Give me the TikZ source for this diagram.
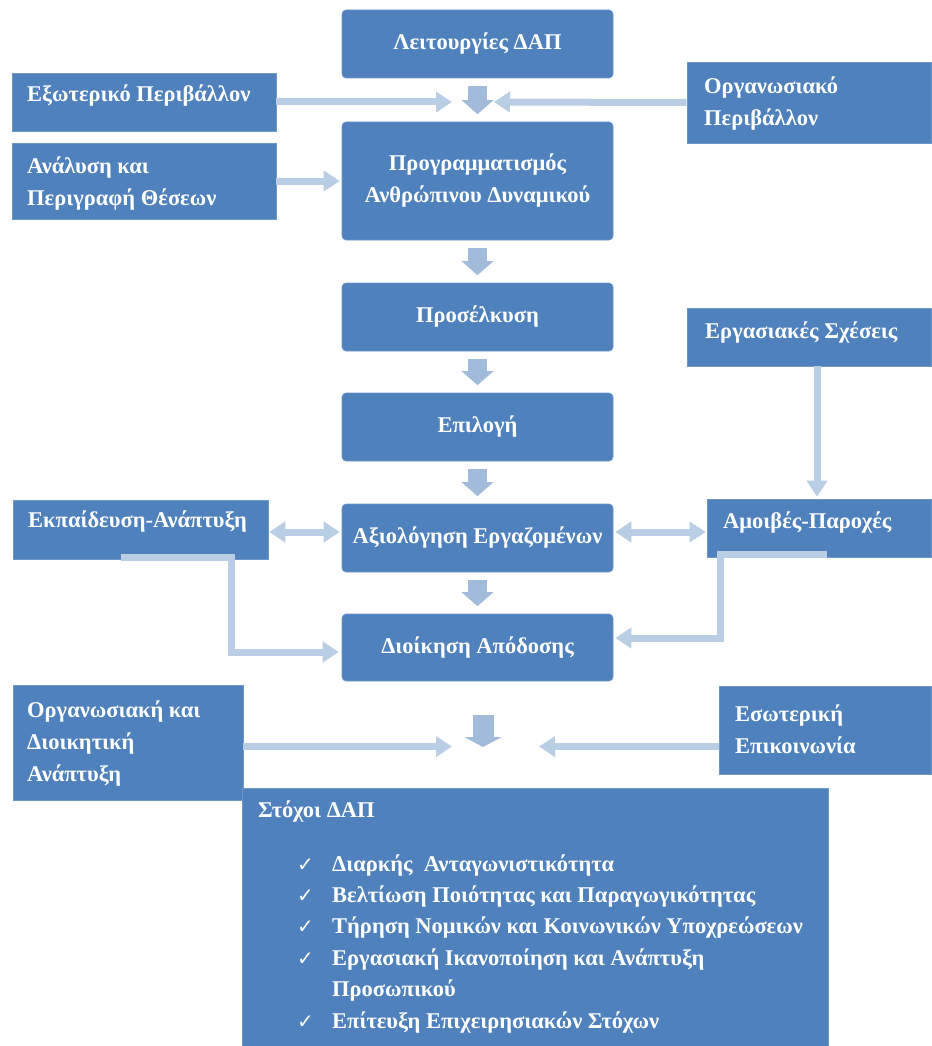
\documentclass[tikz,border=0pt]{standalone}
\usepackage{fontspec}
\setmainfont{Liberation Serif}
\newfontfamily\ckfont{DejaVu Sans}
\usetikzlibrary{arrows.meta}
\definecolor{boxblue}{HTML}{4F81BD}
\definecolor{boxedge}{HTML}{6E97C9}
\definecolor{connblue}{HTML}{B9CDE5}
\definecolor{blockblue}{HTML}{A3BBDB}
\newcommand{\ckm}{\makebox[35pt][l]{\ckfont\fontsize{20}{20}\selectfont ✓}}
\begin{document}
\begin{tikzpicture}[x=1pt,y=-1pt,
  bx/.style={fill=boxblue, draw=boxedge, line width=0.6pt, inner sep=0pt, text=white,
    font=\fontsize{22.5}{32}\selectfont\bfseries, align=center},
  cbox/.style={bx, rounded corners=4pt, minimum width=271pt, minimum height=68pt},
  sbox/.style={bx},
  lbl/.style={text=white, inner sep=0pt, anchor=base west, font=\fontsize{22.5}{32}\selectfont\bfseries},
  conn/.style={draw=connblue, line width=7pt, -{Triangle[length=16pt,width=20pt]}},
  dconn/.style={draw=connblue, line width=7pt, {Triangle[length=16pt,width=20pt]}-{Triangle[length=16pt,width=20pt]}},
  blockarr/.style={draw=blockblue, line width=19pt, -{Triangle[length=14pt,width=31pt]}, shorten >=7.5pt, shorten <=7.5pt},
]
\useasboundingbox (0,0) rectangle (931,1046);

% central column
\node[cbox] (lei) at (477.5,44) {Λειτουργίες ΔΑΠ};
\node[cbox, minimum height=118pt] (prog) at (477.5,181) {Προγραμματισμός\\Ανθρώπινου Δυναμικού};
\node[cbox] (pros) at (477.5,317) {Προσέλκυση};
\node[cbox] (epi) at (477.5,427) {Επιλογή};
\node[cbox] (axi) at (477.5,538) {Αξιολόγηση Εργαζομένων};
\node[cbox, minimum height=67pt] (dio) at (477.5,647.5) {Διοίκηση Απόδοσης};

% side boxes
\node[sbox, minimum width=264pt, minimum height=58pt] (ext) at (144,102) {};
\node[sbox, minimum width=264pt, minimum height=76pt] (ana) at (144,181) {};
\node[sbox, minimum width=244pt, minimum height=81pt] (org) at (809,102.5) {};
\node[sbox, minimum width=244pt, minimum height=58pt] (erg) at (809,337) {};
\node[sbox, minimum width=224pt, minimum height=58pt] (amo) at (819,528) {};
\node[sbox, minimum width=255pt, minimum height=59pt] (ekp) at (140.5,529.5) {};
\node[sbox, minimum width=230pt, minimum height=115pt] (orgd) at (128,742.5) {};
\node[sbox, minimum width=212pt, minimum height=88pt] (eso) at (825,730) {};
\node[sbox, minimum width=586pt, minimum height=258pt] (sto) at (535,917) {};

% side box texts
\node[lbl] (extT) at (27,102) {Εξωτερικό Περιβάλλον};
\node[lbl] (anaT) at (27,173) {\parbox[t]{240pt}{\raggedright Ανάλυση και\\Περιγραφή Θέσεων}};
\node[lbl] (orgT) at (704,94) {\parbox[t]{220pt}{\raggedright Οργανωσιακό\\Περιβάλλον}};
\node[lbl] (ergT) at (705,338) {Εργασιακές Σχέσεις};
\node[lbl] (amoT) at (723,528) {Αμοιβές-Παροχές};
\node[lbl] (ekpT) at (28,527) {Εκπαίδευση-Ανάπτυξη};
\node[lbl] (orgdT) at (27,717) {\parbox[t]{210pt}{\raggedright Οργανωσιακή και\\Διοικητική\\Ανάπτυξη}};
\node[lbl] (esoT) at (735,721) {\parbox[t]{190pt}{\raggedright Εσωτερική\\Επικοινωνία}};
\node[lbl] (stoT) at (258,817) {Στόχοι ΔΑΠ};
\node[lbl] (stoL) at (297,871) {\parbox[t]{560pt}{\raggedright\fontsize{22.5}{31.4}\selectfont
\ckm Διαρκής\ \ Ανταγωνιστικότητα\\
\ckm Βελτίωση Ποιότητας και Παραγωγικότητας\\
\ckm Τήρηση Νομικών και Κοινωνικών Υποχρεώσεων\\
\ckm Εργασιακή Ικανοποίηση και Ανάπτυξη\\
\hspace*{35pt}Προσωπικού\\
\ckm Επίτευξη Επιχειρησιακών Στόχων}};

% block arrows in the central column
\draw[blockarr] (lei.south) -- (prog.north);
\draw[blockarr] (prog.south) -- (pros.north);
\draw[blockarr] (pros.south) -- (epi.north);
\draw[blockarr] (epi.south) -- (axi.north);
\draw[blockarr] (axi.south) -- (dio.north);
\coordinate (bA) at (483,715);
\coordinate (bB) at (483,747);
\draw[draw=blockblue, line width=21pt, -{Triangle[length=10pt,width=37pt]}] (bA) -- (bB);

% connectors
\coordinate (c1) at (452,102);
\coordinate (c2) at (494,102);
\draw[conn] (ext.east) -- (c1);
\draw[conn] (org.west) -- (c2);
\draw[conn, shorten >=2pt] (ana.east) -- (prog.west);
\draw[dconn, shorten <=1pt, shorten >=2pt] ([yshift=-2.5pt]ekp.east) -- ([yshift=-2.5pt]ekp.east -| axi.west);
\draw[dconn, shorten <=2pt, shorten >=1pt] ([yshift=-4pt]amo.west -| axi.east) -- ([yshift=-4pt]amo.west);
\draw[conn, shorten >=2pt] ([xshift=8pt]erg.south) -- ([xshift=8pt]erg.south |- amo.north);
\coordinate (e1) at ([xshift=-20pt,yshift=1.5pt]ekp.south);
\draw[conn, shorten >=3pt] (e1) -- ++(111,0) |- ([yshift=-4.5pt]dio.west);
\coordinate (a1) at ([xshift=8pt,yshift=3pt]amo.south);
\draw[conn, shorten >=2pt] (a1) -- ++(-107,0) |- ([yshift=9.5pt]dio.east);
\coordinate (c3) at (452,746.5);
\coordinate (c4) at (539,746.5);
\draw[conn] ([yshift=-4pt]orgd.east) -- (c3);
\draw[conn] ([yshift=-16.5pt]eso.west) -- (c4);
\end{tikzpicture}
\end{document}
